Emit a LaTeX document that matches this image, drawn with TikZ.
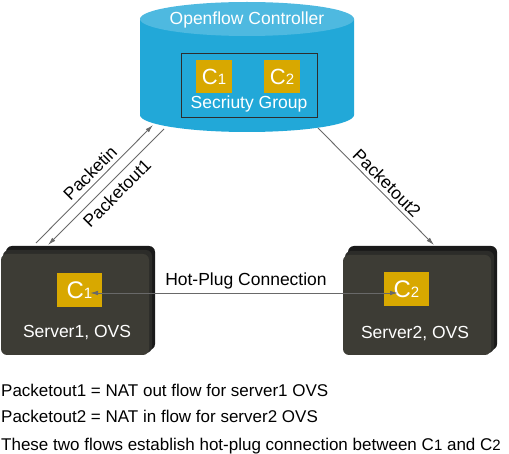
\documentclass[tikz,border=0pt]{standalone}
\usepackage{fontspec}
\setmainfont{Liberation Sans}
\usetikzlibrary{arrows.meta}
\definecolor{cylbody}{RGB}{34,168,216}
\definecolor{cyltop}{RGB}{78,185,224}
\definecolor{goldbox}{RGB}{216,168,0}
\definecolor{srvfront}{RGB}{61,60,53}
\definecolor{srvmid}{RGB}{44,44,41}
\definecolor{srvback}{RGB}{26,26,26}
\definecolor{arrgray}{RGB}{105,105,105}
\definecolor{sgborder}{RGB}{45,45,45}
\tikzset{
  txt/.style={font=\fontsize{17.5}{20}\selectfont, inner sep=0pt},
  legtxt/.style={font=\fontsize{17}{20}\selectfont, inner sep=0pt, anchor=base west},
  wtxt/.style={txt, text=white},
  cbox/.style={fill=goldbox, text=white, inner sep=0pt, font=\fontsize{22}{22}\selectfont},
  conn/.style={draw=arrgray, line width=0.9pt, -{Latex[length=8pt,width=4.5pt]}},
  srvfrontstyle/.style={fill=srvfront, rounded corners=6pt},
  srvmidstyle/.style={fill=srvmid, rounded corners=6pt},
  srvbackstyle/.style={fill=srvback, rounded corners=6pt},
}
\newcommand{\sm}[1]{{\fontsize{15}{15}\selectfont #1}}
\begin{document}
\begin{tikzpicture}[x=1pt,y=-1pt]
\useasboundingbox (0,0) rectangle (509,454);
% cylinder
\fill[cylbody] (140,19) -- (140,115) arc[start angle=180,end angle=360,x radius=107pt,y radius=17pt] -- (354,19) -- cycle;
\fill[cyltop] (247,19) ellipse [x radius=107pt, y radius=17pt];
\node[wtxt] (ctrl) at (247,20) {Openflow Controller};
\node[draw=sgborder, line width=0.9pt, minimum width=136pt, minimum height=64pt, inner sep=0pt] (sg) at (249,85) {};
\node[cbox, minimum width=36pt, minimum height=33pt] (cc1) at (214,76.5) {C\sm{1}};
\node[cbox, minimum width=36pt, minimum height=33pt] (cc2) at (282,76.5) {C\sm{2}};
\node[wtxt] (sgl) at (249,104) {Secriuty Group};
% servers
\fill[srvbackstyle] (6,246) rectangle (155,350);
\fill[srvmidstyle] (3,250) rectangle (152,353);
\fill[srvfrontstyle] (1,254) rectangle (149,355);
\fill[srvbackstyle] (348,246) rectangle (497,350);
\fill[srvmidstyle] (345,251) rectangle (494,353);
\fill[srvfrontstyle] (343,255) rectangle (491,355);
\node[cbox, minimum width=45pt, minimum height=34pt, font=\fontsize{24}{24}\selectfont] (s1c) at (79.5,290) {C\sm{1}};
\node[cbox, minimum width=45pt, minimum height=34pt, font=\fontsize{24}{24}\selectfont] (s2c) at (406.5,289) {C\sm{2}};
\node[wtxt] (s1l) at (77,333) {Server1, OVS};
\node[wtxt] (s2l) at (415,334) {Server2, OVS};
% connectors
\coordinate (pinS) at (36,243);
\coordinate (pinE) at (153,125);
\coordinate (po1S) at (164,129);
\coordinate (po1E) at (48,245);
\coordinate (po2S) at (318,128);
\coordinate (po2E) at (434,245);
\coordinate (hpA) at (90,293);
\coordinate (hpB) at (398,293);
\draw[conn] (pinS) -- (pinE);
\draw[conn] (po1S) -- (po1E);
\draw[conn] (po2S) -- (po2E);
\draw[conn, {Latex[length=8pt,width=4.5pt]}-{Latex[length=8pt,width=4.5pt]}] (hpA) -- (hpB);
\node[txt, rotate=45] (lpin) at (90,173) {Packetin};
\node[txt, rotate=45] (lpo1) at (117,193) {Packetout1};
\node[txt, rotate=-45] (lpo2) at (387,183) {Packetout2};
\node[txt] (lhp) at (246,281) {Hot-Plug Connection};
% legend
\node[legtxt] (n1) at (1,396) {Packetout1 = NAT out flow for server1 OVS};
\node[legtxt] (n2) at (1,422) {Packetout2 = NAT in flow for server2 OVS};
\node[legtxt] (n3) at (1,450) {These two flows establish hot-plug connection between C\sm{1} and C\sm{2}};
\end{tikzpicture}
\end{document}
